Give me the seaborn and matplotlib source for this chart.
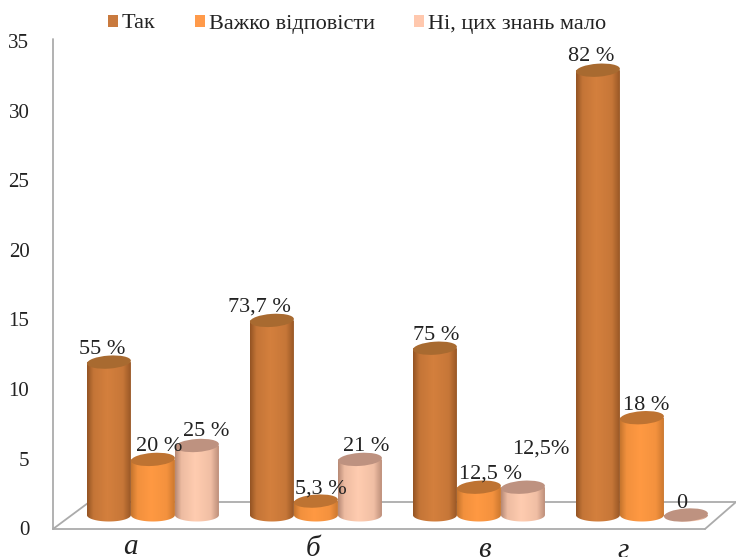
import numpy as np
import pandas as pd
import matplotlib
matplotlib.use("Agg")
import matplotlib.pyplot as plt
import seaborn as sns
from matplotlib.lines import Line2D
from matplotlib.patches import Ellipse, Patch, Polygon
from matplotlib.transforms import ScaledTranslation

groups = ["а", "б", "в", "г"]
answers = ["Так", "Важко відповісти", "Ні, цих знань мало"]
yes_values = [11, 14, 12, 32]
hard_values = [4, 1, 2, 7]
no_values = [5, 4, 2, 0]
yes_labels = ["55 %", "73,7 %", "75 %", "82 %"]
hard_labels = ["20 %", "5,3 %", "12,5 %", "18 %"]
no_labels = ["25 %", "21 %", "12,5%", "0"]
y_ticks = [0, 5, 10, 15, 20, 25, 30, 35]

# label nudges in pixels, from the bar top centre
yes_nudge = [(-7, 13), (-12, 13), (1, 13), (-7, 14)]
hard_nudge = [(6, 13), (5, 12), (12, 13), (4, 12)]
no_nudge = [(9, 14), (6, 13), (18, 38), (-4, 12)]
tick_nudge = [(-22, -4), (-3, -6), (5, -7), (-19, -8)]

legend_colors = ["#C97A3E", "#FF9A4A", "#FFC8AE"]
edge_colors = [(0.58, 0.33, 0.14), (0.78, 0.46, 0.18), (0.72, 0.54, 0.46)]
mid_colors = [(0.83, 0.50, 0.24), (1.0, 0.60, 0.26), (1.0, 0.80, 0.69)]
top_colors = ["#A86A30", "#BE7332", "#BE9280"]

W, H = 736, 557
LEFT, FRONT, WALL_TOP = 53, 529, 39
AXES_TOP = 20
BASE_PX = 515
UNIT_PX = 13.9


def px(x, y):
    return x / W, 1 - y / H


def draw_frame(fig):
    lines = [
        [(LEFT, WALL_TOP), (LEFT, FRONT)],
        [(LEFT, FRONT), (705, FRONT)],
        [(LEFT, FRONT), (88, 503)],
        [(88, 502), (736, 502)],
        [(705, FRONT), (736, 502)],
    ]
    for a, b in lines:
        xa, ya = px(*a)
        xb, yb = px(*b)
        fig.add_artist(Line2D([xa, xb], [ya, yb], color="#ABABAB", lw=1.3, zorder=0))


def draw_cylinder(ax, bar, hue_i, z):
    x0, w = bar.get_x(), bar.get_width()
    value = bar.get_height()
    ell_h = 13 / UNIT_PX

    # body: straight sides and the rounded bottom
    t = np.linspace(np.pi, 2 * np.pi, 40)
    xs = x0 + w / 2 + w / 2 * np.cos(t)
    ys = ell_h / 2 * np.sin(t)
    outline = list(zip(xs, ys)) + [(x0 + w, value), (x0, value)]
    body = Polygon(outline, closed=True, transform=ax.transData, fc="none", ec="none")
    ax.add_patch(body)

    # shading across the cylinder
    pos = np.linspace(0, 1, 80)
    stops = [0, 0.14, 0.45, 0.8, 1]
    shade = np.zeros((1, 80, 3))
    for c in range(3):
        lo, hi = edge_colors[hue_i][c], mid_colors[hue_i][c]
        shade[0, :, c] = np.interp(pos, stops, [lo, (lo + 3 * hi) / 4, hi, (lo + 4 * hi) / 5, lo])
    im = ax.imshow(shade, extent=(x0, x0 + w, -ell_h, max(value, 0.01)), aspect="auto",
                   zorder=z, interpolation="bilinear")
    im.set_clip_path(body)

    # cap, a little tilted, drawn in pixels
    cx, cy = ax.transData.transform((x0 + w / 2, value))
    wpx = abs(ax.transData.transform((x0 + w, 0))[0] - ax.transData.transform((x0, 0))[0])
    cap = Ellipse((cx, cy), wpx, 13, angle=4, transform=None, fc=top_colors[hue_i], ec="none", zorder=z + 0.1)
    ax.add_artist(cap)


def main():
    sns.set_style("white")
    plt.rcParams["font.family"] = ["Liberation Serif", "DejaVu Serif"]

    df = pd.DataFrame({
        "group": groups * 3,
        "answer": [a for a in answers for _ in groups],
        "value": yes_values + hard_values + no_values,
    })

    fig = plt.figure(figsize=(W / 100, H / 100), dpi=100)
    x_l, y_t = px(LEFT, AXES_TOP)
    _, y_b = px(LEFT, FRONT)
    ax = fig.add_axes([x_l, y_b, 1 - x_l, y_t - y_b])
    ax.patch.set_alpha(0)

    sns.barplot(data=df, x="group", y="value", hue="answer", hue_order=answers, order=groups,
                palette=legend_colors, width=0.81, gap=0, legend=False, ax=ax)

    x_lim = (-0.613, 3.577)
    y_lim = (-(FRONT - BASE_PX) / UNIT_PX, (BASE_PX - AXES_TOP) / UNIT_PX)
    ax.set_xlim(x_lim)
    ax.set_ylim(y_lim)
    for side in ax.spines.values():
        side.set_visible(False)
    ax.set_xlabel("")
    ax.set_ylabel("")
    draw_frame(fig)

    all_labels = [yes_labels, hard_labels, no_labels]
    all_nudge = [yes_nudge, hard_nudge, no_nudge]
    for hue_i, container in enumerate(ax.containers):
        for g_i, bar in enumerate(container):
            bar.set_visible(False)
            z = 3 + g_i + hue_i * 0.2
            draw_cylinder(ax, bar, hue_i, z)
            dx, dy = all_nudge[hue_i][g_i]
            ax.annotate(all_labels[hue_i][g_i], (bar.get_x() + bar.get_width() / 2, bar.get_height()),
                        xytext=(dx * 0.72, dy * 0.72), textcoords="offset points", ha="center", va="center",
                        fontsize=16, color="#222222", zorder=20, annotation_clip=False)

    ax.set_xlim(x_lim)
    ax.set_yticks(y_ticks)
    ax.set_ylim(y_lim)
    ax.tick_params(axis="y", length=0, labelsize=15, pad=17, labelcolor="#222222")
    # the value axis stands on the front plane, lower than the bars
    shift = ScaledTranslation(0, -13 / 100, fig.dpi_scale_trans)
    for tick in ax.yaxis.get_major_ticks():
        tick.label1.set_transform(tick.label1.get_transform() + shift)

    ax.set_xticks(range(len(groups)))
    ax.set_xticklabels(groups, fontstyle="italic", fontsize=21, color="#222222")
    ax.tick_params(axis="x", length=0, pad=1)
    for label, (dx, dy) in zip(ax.get_xticklabels(), tick_nudge):
        label.set_transform(label.get_transform() + ScaledTranslation(dx / 100, dy / 100, fig.dpi_scale_trans))

    handles = [Patch(fc=c, ec="none") for c in legend_colors]
    fig.legend(handles, answers, loc="center", bbox_to_anchor=px(357, 24), ncol=3, frameon=False,
               fontsize=16, handlelength=0.45, handleheight=0.45, handletextpad=0.2, columnspacing=1.75,
               labelcolor="#222222")

    fig.savefig("out.png", dpi=100)


if __name__ == "__main__":
    main()
